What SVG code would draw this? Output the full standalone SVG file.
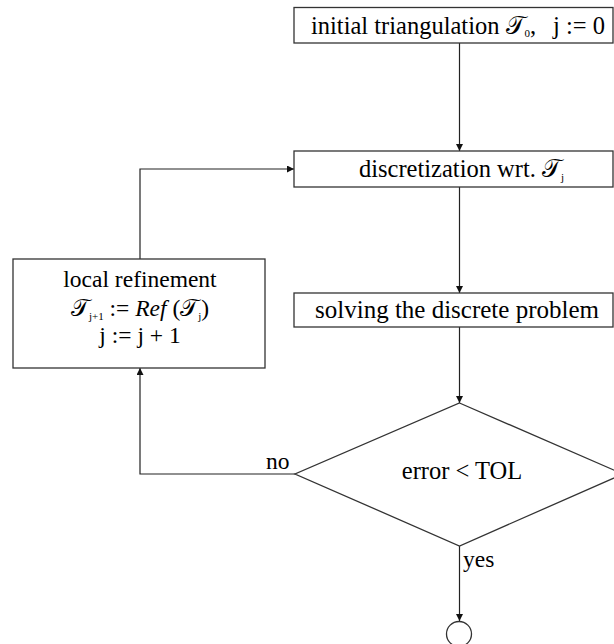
<svg xmlns="http://www.w3.org/2000/svg" width="614" height="644" viewBox="0 0 614 644">
<defs>
<marker id="arr" viewBox="0 0 10 10" refX="10" refY="5" markerWidth="7" markerHeight="7" orient="auto" markerUnits="userSpaceOnUse">
<path d="M0,0 L10,5 L0,10 z" fill="#111"/>
</marker>
<style>
.box{fill:#fff;stroke:#333;stroke-width:1.3}
.t{font-family:"Liberation Serif","Times New Roman",serif;font-size:24.5px;fill:#000}
.m{font-size:23.5px}
.c{text-anchor:middle}
.e{text-anchor:end}
.cal{font-family:"DejaVu Serif","DejaVu Sans","Liberation Serif",serif}
.sub{font-size:11px}
.it{font-style:italic}
.ln{fill:none;stroke:#222;stroke-width:1.2}
</style>
</defs>
<g id="connectors">
<path class="ln" d="M459.5,43 V151" marker-end="url(#arr)"/>
<path class="ln" d="M459.5,187 V293" marker-end="url(#arr)"/>
<path class="ln" d="M459.5,327 V403" marker-end="url(#arr)"/>
<path class="ln" d="M295,474 H140 V368" marker-end="url(#arr)"/>
<path class="ln" d="M140,259 V169 H294" marker-end="url(#arr)"/>
<path class="ln" d="M459.5,546 V621" marker-end="url(#arr)"/>
<text class="t m" x="266" y="469">no</text>
<text class="t m" x="463" y="567">yes</text>
</g>
<g id="init">
<rect class="box" x="294" y="7.5" width="319" height="35.5"/>
<text class="t" x="311" y="34">initial triangulation <tspan class="cal">𝒯</tspan><tspan class="sub" dy="3">0</tspan><tspan dy="-3">,</tspan></text>
<text class="t e" x="605" y="34">j := 0</text>
</g>
<g id="discretization">
<rect class="box" x="294" y="151" width="319" height="36"/>
<text class="t" x="359" y="177">discretization wrt. <tspan class="cal">𝒯</tspan><tspan class="sub" dy="4">j</tspan></text>
</g>
<g id="solving">
<rect class="box" x="294" y="293" width="319" height="34"/>
<text class="t c" x="457" y="318" style="font-size:25px">solving the discrete problem</text>
</g>
<g id="decision">
<polygon class="box" points="459.5,403 623,474 459.5,546 295,474"/>
<text class="t c" x="462" y="479">error &lt; TOL</text>
</g>
<g id="refinement">
<rect class="box" x="13" y="259" width="252" height="109"/>
<text class="t m c" x="140" y="287">local refinement</text>
<text class="t m c" x="140" y="316"><tspan class="cal">𝒯</tspan><tspan class="sub" dy="4">j+1</tspan><tspan dy="-4"> := </tspan><tspan class="it">Ref</tspan> (<tspan class="cal">𝒯</tspan><tspan class="sub" dy="4">j</tspan><tspan dy="-4">)</tspan></text>
<text class="t m c" x="140" y="343">j := j + 1</text>
</g>
<g id="end">
<circle cx="459" cy="634" r="12.5" fill="#fff" stroke="#333" stroke-width="1.3"/>
</g>
</svg>
